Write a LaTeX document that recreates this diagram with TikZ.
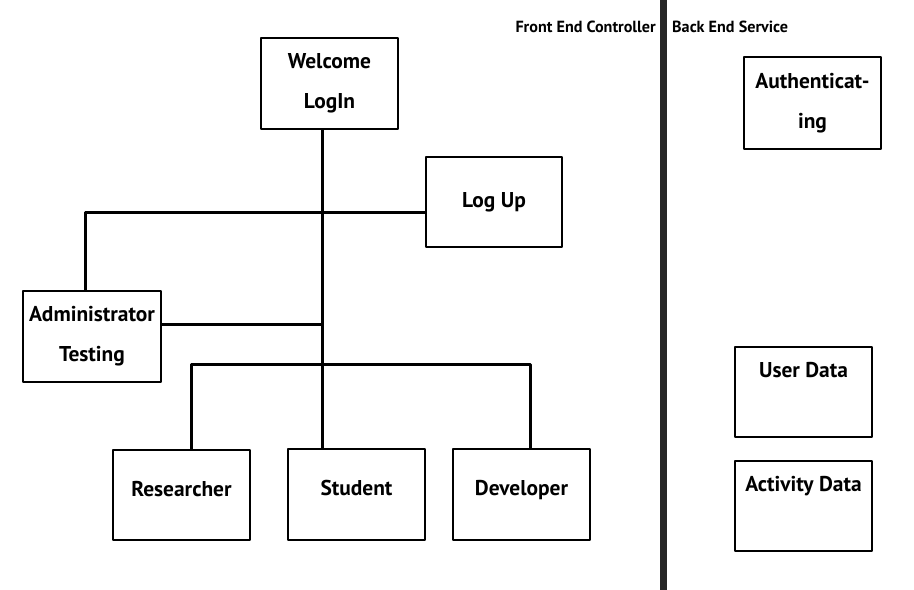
\documentclass[tikz,border=0pt]{standalone}
\usepackage{fontspec}
\setmainfont{PT Sans}
\begin{document}
\begin{tikzpicture}[>=latex,line join=bevel,
  box/.style={draw,line width=2.4bp,minimum width=137bp,minimum height=91bp,inner sep=0pt,align=center,
    font=\bfseries\fontsize{21.5}{40}\selectfont},
  role/.style={box,text height=15bp,text depth=12bp},
  hdr/.style={inner sep=0pt,font=\bfseries\fontsize{16.2}{18}\selectfont},
  link/.style={line width=3bp}]
\useasboundingbox (0bp,0bp) rectangle (914bp,590bp);
%%
\node (node_welcome) at (329.5bp,506.5bp) [box] {Welcome\\LogIn};
  \node (node_logup) at (494bp,388bp) [box,minimum width=136bp,minimum height=90bp] {Log Up};
  \node (node_admin) at (92bp,253.5bp) [box,minimum width=138bp] {Administrator\\Testing};
  \node (node_researcher) at (181.5bp,95bp) [role,minimum height=90bp] {Researcher};
  \node (node_student) at (356.5bp,95.5bp) [role] {Student};
  \node (node_developer) at (521.5bp,95.5bp) [role] {Developer};
  \node (node_auth) at (812.5bp,487bp) [box,minimum height=92bp] {Authenticat-\\ing};
  \node (node_userdata) at (803.5bp,198bp) [box,minimum height=90bp] {User Data\\[4bp]\mbox{}};
  \node (node_activity) at (803.5bp,84bp) [box,minimum height=90bp] {Activity Data\\[4bp]\mbox{}};
%
\node (hdr_front) at (656bp,563bp) [hdr,anchor=east] {Front End Controller};
  \node (hdr_back) at (672bp,563bp) [hdr,anchor=west] {Back End Service};
  \draw [line width=7bp,black!85] (663bp,590bp) -- (663bp,0bp);
%
\coordinate (trunk) at (322bp,0bp);
  \coordinate (logup_join) at (85bp,377bp);
  \coordinate (admin_join) at (322bp,265bp);
  \coordinate (bus_left) at (191bp,225bp);
  \coordinate (bus_right) at (530bp,225bp);
  \draw [link] (node_welcome.south -| trunk) -- (node_student.north -| trunk);
  \draw [link] (node_logup.west |- logup_join) -- (logup_join) -- (node_admin.north -| logup_join);
  \draw [link] (node_admin.east |- admin_join) -- (admin_join);
  \draw [link] (node_researcher.north -| bus_left) -- (bus_left) -- (bus_right) -- (node_developer.north -| bus_right);
%
\end{tikzpicture}
\end{document}
